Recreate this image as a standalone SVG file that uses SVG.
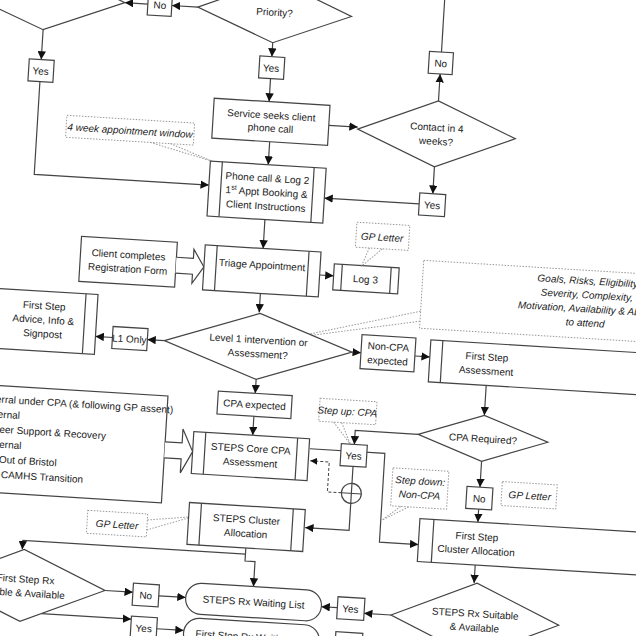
<svg xmlns="http://www.w3.org/2000/svg" width="636" height="636" viewBox="0 0 636 636">
<style>
.b{fill:#fff;stroke:#444;stroke-width:1.2}
.n{fill:#fff;stroke:#999;stroke-width:1;stroke-dasharray:1.5 1.5}
.l{fill:none;stroke:#444;stroke-width:1.2}
.d{fill:none;stroke:#444;stroke-width:1;stroke-dasharray:3 2}
text{font-family:"Liberation Sans",Arial,sans-serif;font-size:10px;fill:#222;text-anchor:middle}
.i{font-style:italic}
.s{text-anchor:start}
</style>
<defs><marker id="a" viewBox="0 0 10 10" refX="10" refY="5" markerWidth="7" markerHeight="7" orient="auto"><path d="M0,0L10,5L0,10z" fill="#111"/></marker></defs>
<rect width="636" height="636" fill="#fff"/>
<g transform="rotate(3.5 318 318)">
<g id="connectors" class="l" marker-end="url(#a)">
<path d="M179,15H153"/><path d="M129,15H106"/>
<path d="M26,47V77"/><path d="M26,99V192H201"/>
<path d="M256,46V60"/><path d="M256,82V105"/>
<path d="M259,145V168"/><path d="M317,125H346"/>
<path d="M425,94V67"/><path d="M425,45V-40" marker-end="none"/>
<path d="M425,160V187"/><path d="M412,198H317"/>
<path d="M259,223V252"/><path d="M317,275H331"/>
<path d="M259,297V316"/>
<path d="M166,350H149"/><path d="M114,350H97"/>
<path d="M354,350H363"/><path d="M417,350H432"/>
<path d="M260,383V397"/><path d="M260,420V439"/>
<path d="M490,375V405"/><path d="M490,451V477"/><path d="M490,499V512"/>
<path d="M425,428H362V442"/>
<path d="M318,449H393V538H432"/>
<path d="M362,464V528H318"/>
<path d="M260,552V558H37V567"/><path d="M260,558V565H270V590"/>
<path d="M490,555V573"/>
<path d="M409,610H382"/><path d="M355,606H339"/>
<path d="M122,603H150"/><path d="M176,605H203"/>
<path d="M60,630H150"/><path d="M176,638H203"/>
</g>
<path class="d" d="M352,491H338V461H319" marker-end="url(#a)"/>
<circle cx="362" cy="491" r="10" class="l"/><path class="l" d="M352,491H372"/>

<g id="n-weeks"><path class="b" d="M-54,15L26,-17L106,15L26,47z"/><text x="26" y="-2">weeks?</text></g>
<g id="n-no1"><rect class="b" x="129" y="4" width="24" height="22"/><text x="141" y="19">No</text></g>
<g id="n-priority"><path class="b" d="M179,15L256,-17L333,15L256,46z"/><text x="256" y="19">Priority?</text></g>
<g id="n-yes1"><rect class="b" x="14" y="77" width="25" height="22"/><text x="26" y="92">Yes</text></g>
<g id="n-yes2"><rect class="b" x="244" y="60" width="25" height="22"/><text x="256" y="75">Yes</text></g>
<g id="n-no2"><rect class="b" x="413" y="45" width="24" height="22"/><text x="425" y="60">No</text></g>
<g id="n-service"><rect class="b" x="201" y="105" width="116" height="40"/><text x="259" y="122">Service seeks client</text><text x="259" y="135">phone call</text></g>
<g id="n-contact"><path class="b" d="M346,127L425,94L504,127L425,160z"/><text x="425" y="124">Contact in 4</text><text x="425" y="138">weeks?</text></g>
<g id="n-note4"><rect class="n" x="55" y="131" width="128" height="22"/><path class="n" d="M140,153L203,168M160,153L203,168"/><text class="i" x="119" y="146">4 week appointment window</text></g>
<g id="n-phone"><rect class="b" x="201" y="168" width="116" height="55"/><path class="l" d="M213,168V223M305,168V223"/><text x="259" y="185">Phone call &amp; Log 2</text><text x="259" y="199">1<tspan font-size="7" dy="-4">st</tspan><tspan dy="4"> Appt Booking &amp;</tspan></text><text x="259" y="213">Client Instructions</text></g>
<g id="n-yes3"><rect class="b" x="412" y="187" width="26" height="22"/><text x="425" y="202">Yes</text></g>
<g id="n-client"><rect class="b" x="77" y="251" width="96" height="45"/><text x="125" y="270">Client completes</text><text x="125" y="284">Registration Form</text><path class="b" d="M173,266H190V257L201,274L190,291V282H173"/></g>
<g id="n-triage"><rect class="b" x="201" y="252" width="116" height="45"/><path class="l" d="M213,252V297M305,252V297"/><text x="259" y="272">Triage Appointment</text></g>
<g id="n-log3"><rect class="b" x="331" y="263" width="65" height="26"/><path class="l" d="M339,263V289M388,263V289"/><text x="363" y="280">Log 3</text></g>
<g id="n-gp1"><rect class="n" x="351" y="220" width="53" height="25"/><path class="n" d="M365,245L358,264M378,245L358,264"/><text class="i" x="377" y="237">GP Letter</text></g>
<g id="n-goals"><rect class="n" x="420" y="254" width="290" height="68"/><path class="n" d="M420,305L290,340M420,315L290,340"/><text class="i" x="585" y="268">Goals, Risks, Eligibility</text><text class="i" x="585" y="282">Severity, Complexity,</text><text class="i" x="585" y="296">Motivation, Availability &amp; Ability</text><text class="i" x="585" y="310">to attend</text></g>
<g id="n-level1"><path class="b" d="M166,350L260,317L354,350L260,383z"/><text x="260" y="347">Level 1 intervention or</text><text x="260" y="361">Assessment?</text></g>
<g id="n-l1"><rect class="b" x="114" y="339" width="35" height="22"/><text x="131" y="354">L1 Only</text></g>
<g id="n-advice"><rect class="b" x="-20" y="308" width="117" height="60"/><path class="l" d="M85,308V368"/><text x="44" y="326">First Step</text><text x="44" y="340">Advice, Info &amp;</text><text x="44" y="354">Signpost</text></g>
<g id="n-noncpa"><rect class="b" x="363" y="332" width="54" height="34"/><text x="390" y="346">Non-CPA</text><text x="390" y="360">expected</text></g>
<g id="n-fsa"><rect class="b" x="432" y="333" width="220" height="42"/><path class="l" d="M444,333V375"/><text x="489" y="350">First Step</text><text x="489" y="364">Assessment</text></g>
<g id="n-cpaexp"><rect class="b" x="223" y="397" width="74" height="23"/><text x="260" y="412">CPA expected</text></g>
<g id="n-referral"><rect class="b" x="-70" y="405" width="243" height="107"/><text class="s" x="-14" y="422">Referral under CPA (&amp; following GP assent)</text><text class="s" x="-13" y="437">- Internal</text><text class="s" x="-6" y="452">- Peer Support &amp; Recovery</text><text class="s" x="-13" y="467">- External</text><text class="s" x="2" y="482">- Out of Bristol</text><text class="s" x="5" y="497">- CAMHS Transition</text><path class="b" d="M173,451H190V437L201,459L190,481V467H173"/></g>
<g id="n-core"><rect class="b" x="201" y="439" width="116" height="42"/><path class="l" d="M213,439V481M305,439V481"/><text x="259" y="456">STEPS Core CPA</text><text x="259" y="470">Assessment</text></g>
<g id="n-stepup"><rect class="n" x="325" y="398" width="57" height="23"/><path class="n" d="M340,421L358,442M348,421L358,442"/><text class="i" x="353" y="413">Step up: CPA</text></g>
<g id="n-yes4"><rect class="b" x="349" y="442" width="26" height="22"/><text x="362" y="457">Yes</text></g>
<g id="n-cpareq"><path class="b" d="M425,428L490,405L555,428L490,451z"/><text x="490" y="432">CPA Required?</text></g>
<g id="n-no3"><rect class="b" x="477" y="477" width="26" height="22"/><text x="490" y="492">No</text></g>
<g id="n-gp3"><rect class="n" x="512" y="470" width="55" height="24"/><text class="i s" x="519" y="486">GP Letter</text></g>
<g id="n-stepdown"><rect class="n" x="402" y="463" width="56" height="38"/><path class="n" d="M412,501L394,516M420,501L394,516"/><text class="i" x="430" y="478">Step down:</text><text class="i" x="430" y="492">Non-CPA</text></g>
<g id="n-gp2"><rect class="n" x="100" y="524" width="60" height="23"/><path class="n" d="M160,530L205,524M160,540L205,524"/><text class="i" x="130" y="540">GP Letter</text></g>
<g id="n-cluster"><rect class="b" x="201" y="510" width="116" height="42"/><path class="l" d="M213,510V552M305,510V552"/><text x="259" y="527">STEPS Cluster</text><text x="259" y="541">Allocation</text></g>
<g id="n-fsc"><rect class="b" x="432" y="512" width="220" height="43"/><path class="l" d="M446,512V555"/><text x="490" y="530">First Step</text><text x="490" y="544">Cluster Allocation</text></g>
<g id="n-fsrx"><path class="b" d="M-44,603L39,567L122,603L39,639z"/><text x="42" y="600">First Step Rx</text><text x="38" y="614">Suitable &amp; Available</text></g>
<g id="n-no4"><rect class="b" x="150" y="594" width="26" height="22"/><text x="163" y="609">No</text></g>
<g id="n-yes5"><rect class="b" x="150" y="627" width="26" height="22"/><text x="163" y="642">Yes</text></g>
<g id="n-steprxwl"><rect class="b" x="203" y="590" width="136" height="31" rx="15.5"/><text x="271" y="609">STEPS Rx Waiting List</text></g>
<g id="n-fsrxwl"><rect class="b" x="203" y="625" width="136" height="31" rx="15.5"/><text x="271" y="644">First Step Rx Waiting List</text></g>
<g id="n-yes6"><rect class="b" x="355" y="595" width="27" height="22"/><text x="368" y="610">Yes</text></g>
<g id="n-box7"><rect class="b" x="355" y="630" width="27" height="22"/></g>
<g id="n-stepsrx"><path class="b" d="M409,610L493,573L577,610L493,647z"/><text x="493" y="607">STEPS Rx Suitable</text><text x="493" y="621">&amp; Available</text></g>
</g>
</svg>
